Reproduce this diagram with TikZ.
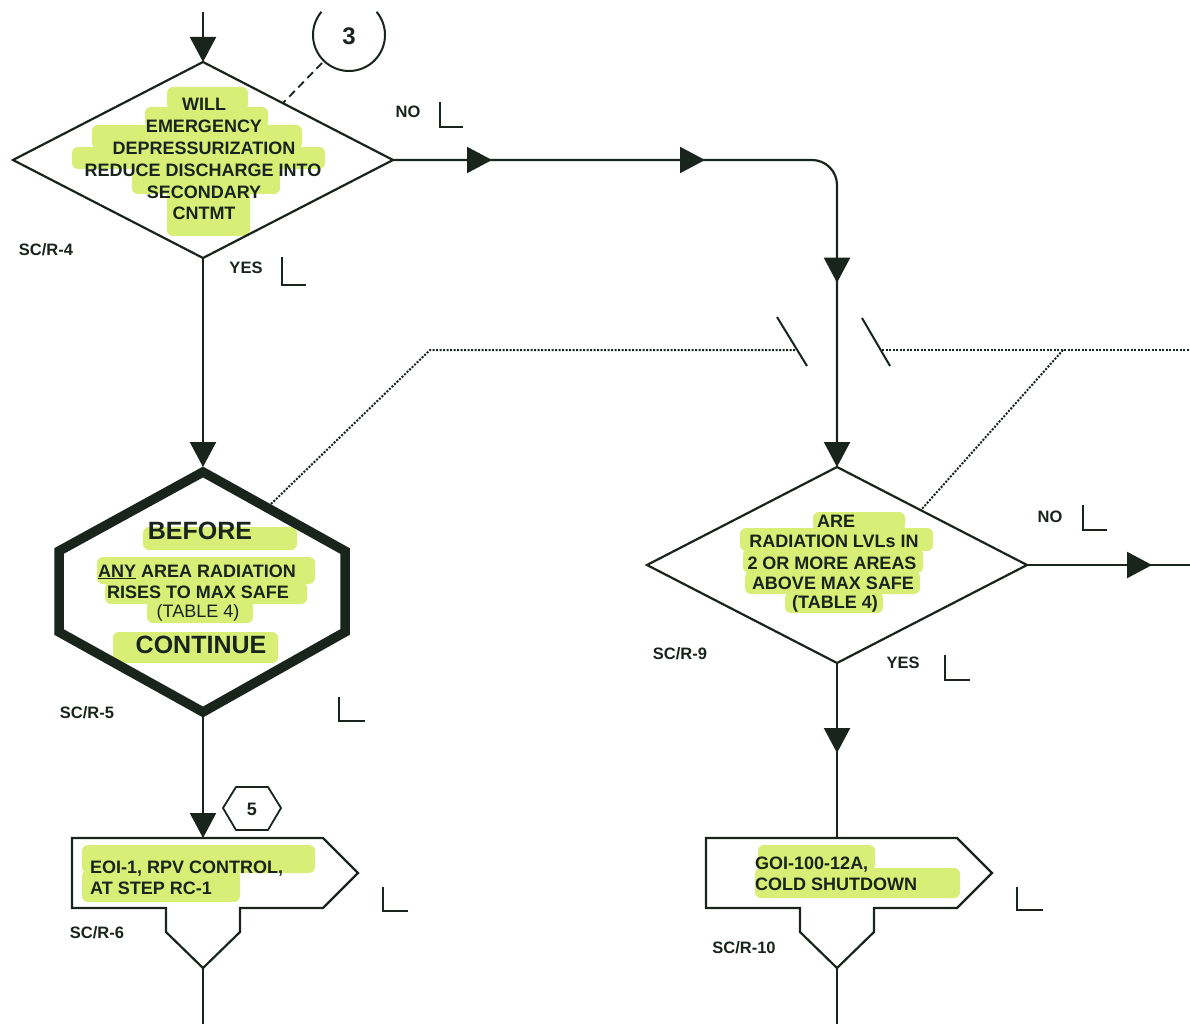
\documentclass[tikz,border=0pt]{standalone}
\usepackage{fontspec}
\setmainfont{Liberation Sans}
\usetikzlibrary{arrows.meta,decorations.markings}

\definecolor{ink}{RGB}{24,36,28}
\definecolor{hl}{RGB}{216,238,118}

\begin{document}
\begin{tikzpicture}[x=1pt,y=-1pt,
  Tri/.tip={Triangle[width=26pt,length=25pt]},
  flow/.style={draw=ink,line width=2.2pt},
  outline/.style={draw=ink,line width=2.2pt,line join=miter},
  body/.style={text=ink,inner sep=0pt,font=\fontsize{18}{21}\selectfont\bfseries},
  tag/.style={text=ink,inner sep=0pt,font=\fontsize{16.5}{20}\selectfont\bfseries},
  big/.style={text=ink,inner sep=0pt,font=\fontsize{25}{30}\selectfont\bfseries},
  hlband/.style={fill=hl,rounded corners=6pt},
  tick/.style={draw=ink,line width=2pt},
  dots/.style={draw=ink,line width=2pt,dash pattern=on 2pt off 1.5pt},
]
% page
\fill[white] (0,0) rectangle (1190,1024);
\useasboundingbox (0,0) rectangle (1190,1024);

% ---------- anchor points of the symbols ----------
\coordinate (top)  at (203,12);
\coordinate (d1n)  at (203,62);
\coordinate (d1e)  at (393,160);
\coordinate (d1s)  at (203,258);
\coordinate (d1w)  at (13,160);

\coordinate (hxn)  at (203,472);
\coordinate (hxne) at (345,551);
\coordinate (hxse) at (345,632);
\coordinate (hxs)  at (203,712);
\coordinate (hxsw) at (59,632);
\coordinate (hxnw) at (59,551);
\coordinate (hxin) at (203,467);
\coordinate (hxout) at (203,717);

\coordinate (d2n)  at (837,467);
\coordinate (d2e)  at (1027,565);
\coordinate (d2s)  at (837,663);
\coordinate (d2w)  at (647,565);

\coordinate (b1top) at (203,838);
\coordinate (b1bot) at (203,968);
\coordinate (b2top) at (837,838);
\coordinate (b2bot) at (837,968);
\coordinate (end1) at (203,1024);
\coordinate (end2) at (837,1024);
\coordinate (exitR) at (1190,565);

% ---------- highlighter strokes ----------
\fill[hlband] (167,87) rectangle (248,110);
\fill[hlband] (145,107) rectangle (268,128);
\fill[hlband] (92,125) rectangle (302,149);
\fill[hlband] (72,147) rectangle (325,169);
\fill[hlband] (132,167) rectangle (280,194);
\fill[hlband] (167,190) rectangle (250,236);

\fill[hlband] (143,527) rectangle (297,550);
\fill[hlband] (97,557) rectangle (315,584);
\fill[hlband] (105,582) rectangle (307,604);
\fill[hlband] (147,601) rectangle (253,623);
\fill[hlband] (113,632) rectangle (278,663);

\fill[hlband] (813,512) rectangle (905,531);
\fill[hlband] (740,528) rectangle (933,551);
\fill[hlband] (743,549) rectangle (923,573);
\fill[hlband] (745,571) rectangle (920,594);
\fill[hlband] (785,592) rectangle (883,613);

\fill[hlband] (82,845) rectangle (315,873);
\fill[hlband] (82,870) rectangle (240,902);
\fill[hlband] (758,845) rectangle (875,871);
\fill[hlband] (755,868) rectangle (960,898);

% ---------- symbols ----------
% decision SC/R-4
\draw[outline] (d1n) -- (d1e) -- (d1s) -- (d1w) -- cycle;
% before/continue hexagon SC/R-5
\draw[draw=ink,line width=9.5pt,line join=miter] (hxn) -- (hxne) -- (hxse) -- (hxs) -- (hxsw) -- (hxnw) -- cycle;
% decision SC/R-9
\draw[outline] (d2n) -- (d2e) -- (d2s) -- (d2w) -- cycle;
% exit boxes SC/R-6 and SC/R-10
\draw[outline] (72,838) -- (323,838) -- (358,873) -- (323,908) -- (240,908) -- (240,932)
  -- (b1bot) -- (166,932) -- (166,908) -- (72,908) -- cycle;
\draw[outline] (706,838) -- (957,838) -- (992,873) -- (957,908) -- (874,908) -- (874,932)
  -- (b2bot) -- (800,932) -- (800,908) -- (706,908) -- cycle;

% note circle 3 with its leader
\node[text=ink,font=\fontsize{24}{28}\selectfont\bfseries] (c3) at (349,36) {3};
\draw[draw=ink,line width=2pt] (349,35) ++(-40:36) arc[start angle=-40,end angle=220,radius=36];
\coordinate (c3foot) at (322,63);
\coordinate (c3hit) at (283,103);
\draw[draw=ink,line width=1.8pt,dash pattern=on 8pt off 5pt] (c3foot) -- (c3hit);

% note hexagon 5
\draw[draw=ink,line width=1.8pt,line join=round] (223,808) -- (236,787) -- (268,787) -- (281,808) -- (268,830) -- (236,830) -- cycle;
\node[text=ink,font=\fontsize{18}{20}\selectfont\bfseries] (n5) at (252,809) {5};

% ---------- connectors ----------
\draw[flow,-{Tri},rounded corners=25pt] (top) -- (d1n);
\draw[flow,-{Tri},rounded corners=25pt,
  postaction={decorate},
  decoration={markings,
    mark=at position 99pt with {\arrow{Tri}},
    mark=at position 312pt with {\arrow{Tri}},
    mark=at position 556pt with {\arrow{Tri}}}]
  (d1e) -| (d2n);
\draw[flow,-{Tri}] (d1s) -- (hxin);
\draw[flow,-{Tri}] (hxout) -- (b1top);
\draw[flow] (b1bot) -- (end1);
\draw[flow,postaction={decorate},
  decoration={markings,mark=at position 125pt with {\arrow{Tri}}}]
  (d2e) -- (exitR);
\draw[flow,postaction={decorate},
  decoration={markings,mark=at position 90pt with {\arrow{Tri}}}]
  (d2s) -- (b2top);
\draw[flow] (b2bot) -- (end2);

% dotted scope bracket with break marks
\coordinate (brL) at (430,350);
\coordinate (brR) at (1063,350);
\coordinate (hitL) at (271,504);
\coordinate (hitR) at (921,510);
\coordinate (gapL) at (795,350);
\coordinate (gapR) at (882,350);
\coordinate (edgeR) at (1190,350);
\draw[dots] (hitL) -- (brL) -- (gapL);
\draw[dots] (gapR) -- (edgeR);
\draw[dots] (brR) -- (hitR);
\draw[draw=ink,line width=2pt] (777,317) -- (807,366);
\draw[draw=ink,line width=2pt] (862,318) -- (890,366);

% place-keeping ticks
\draw[tick] (282,257) -- (282,285) -- (306,285);
\draw[tick] (440,102) -- (440,127) -- (463,127);
\draw[tick] (339,697) -- (339,721) -- (365,721);
\draw[tick] (383,887) -- (383,911) -- (408,911);
\draw[tick] (1083,505) -- (1083,530) -- (1107,530);
\draw[tick] (945,655) -- (945,680) -- (970,680);
\draw[tick] (1017,887) -- (1017,910) -- (1043,910);

% ---------- texts ----------
\node[body] (q1a) at (204,104) {WILL};
\node[body] (q1b) at (204,126) {EMERGENCY};
\node[body] (q1c) at (204,148) {DEPRESSURIZATION};
\node[body] (q1d) at (203,170) {REDUCE DISCHARGE INTO};
\node[body] (q1e) at (204,192) {SECONDARY};
\node[body] (q1f) at (204,213) {CNTMT};

\node[big] (bef) at (200,531) {BEFORE};
\node[body] (hxa) at (197,572) {\underline{ANY} AREA RADIATION};
\node[body] (hxb) at (198,592) {RISES TO MAX SAFE};
\node[body,font=\fontsize{18}{21}\selectfont] (hxc) at (198,613) {(TABLE 4)};
\node[big] (cont) at (201,645) {CONTINUE};

\node[body] (q2a) at (836,521) {ARE};
\node[body] (q2b) at (834,541) {RADIATION LVLs IN};
\node[body] (q2c) at (832,563) {2 OR MORE AREAS};
\node[body] (q2d) at (833,583) {ABOVE MAX SAFE};
\node[body] (q2e) at (835,604) {(TABLE 4)};

\node[body,anchor=base west] (x1a) at (90,873) {EOI-1, RPV CONTROL,};
\node[body,anchor=base west] (x1b) at (90,894) {AT STEP RC-1};
\node[body,anchor=base west] (x2a) at (755,869) {GOI-100-12A,};
\node[body,anchor=base west] (x2b) at (755,890) {COLD SHUTDOWN};

\node[tag] (l4) at (46,250) {SC/R-4};
\node[tag] (y1) at (246,268) {YES};
\node[tag] (n1) at (408,112) {NO};
\node[tag] (l5) at (87,713) {SC/R-5};
\node[tag] (l6) at (97,933) {SC/R-6};
\node[tag] (n2) at (1050,517) {NO};
\node[tag] (l9) at (680,654) {SC/R-9};
\node[tag] (y2) at (903,663) {YES};
\node[tag] (l10) at (744,948) {SC/R-10};
\end{tikzpicture}
\end{document}
